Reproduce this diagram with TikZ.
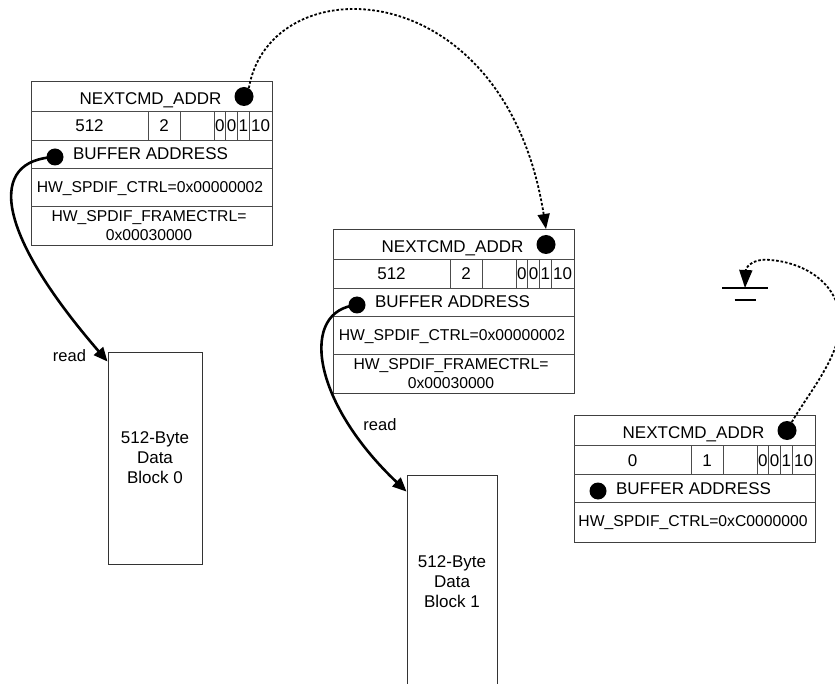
\documentclass[tikz,border=0pt]{standalone}
\usepackage{fontspec}
\setmainfont{Liberation Sans}
\usetikzlibrary{arrows.meta}
\tikzset{
  grid/.style={draw=black!70, line width=0.9pt},
  frame/.style={draw=black!75, line width=0.9pt, inner sep=0pt, outer sep=0pt},
  cell/.style={inner sep=0pt, anchor=base, font=\fontsize{17}{19}\selectfont},
  hwcell/.style={inner sep=0pt, align=center, font=\fontsize{15.7}{19}\selectfont},
  bigdot/.style={circle, fill=black, inner sep=0pt, minimum size=19pt},
  smalldot/.style={circle, fill=black, inner sep=0pt, minimum size=17pt},
  link/.style={line width=1.8pt, dash pattern=on 2.6pt off 1.9pt, -{Triangle[length=15pt,width=12pt]}},
  gndlink/.style={line width=1.8pt, dash pattern=on 2.6pt off 1.9pt, -{Triangle[length=18pt,width=13pt]}},
  readarrow/.style={line width=2.6pt, -{Triangle[length=14pt,width=12pt]}},
  datablock/.style={draw=black!80, line width=0.9pt, align=center, inner sep=0pt, font=\fontsize{17}{20}\selectfont},
  lbl/.style={inner sep=0pt, anchor=base, font=\fontsize{16.5}{19}\selectfont},
  gndline/.style={line width=2.8pt},
}
\newcommand{\cmdbox}[7]{%
  \begin{scope}[shift={(#2,#3)}]
    \node[frame, minimum width=241pt, minimum height=#7pt, anchor=north west] (#1) at (0,0) {};
    \draw[grid] (0,30) -- (241,30) (0,59) -- (241,59) (0,87) -- (241,87);
    \draw[grid] (117,30) -- (117,59) (149,30) -- (149,59) (183,30) -- (183,59)
                (194.5,30) -- (194.5,59) (206.5,30) -- (206.5,59) (218,30) -- (218,59);
    \node[cell] (#1-next) at (119.5,23.5) {NEXTCMD\_ADDR};
    \node[cell] (#1-cnt) at (58.5,51) {#4};
    \node[cell] (#1-ch) at (133,51) {#5};
    \node[cell] (#1-f0) at (188.75,51) {0};
    \node[cell] (#1-f1) at (200.5,51) {0};
    \node[cell] (#1-f2) at (212.25,51) {1};
    \node[cell] (#1-f3) at (229.5,51) {10};
    \node[cell] (#1-buf) at (119.5,79) {BUFFER ADDRESS};
    \node[hwcell, anchor=base] (#1-ctrl) at (119,111.5) {HW\_SPDIF\_CTRL=#6};
    \node[bigdot] (#1-nd) at (213,15.5) {};
    \node[smalldot] (#1-bd) at (24,76) {};
  \end{scope}}
\begin{document}
\begin{tikzpicture}[x=1pt, y=-1pt]
  \useasboundingbox (0,0) rectangle (835,684);
  \clip (0,0) rectangle (835,684);

  % command boxes
  \cmdbox{b1}{31}{81}{512}{2}{0x00000002}{164}
  \begin{scope}[shift={(31,81)}]
    \draw[grid] (0,125.5) -- (241,125.5);
    \node[hwcell] (b1-frame) at (118,144.5) {HW\_SPDIF\_FRAMECTRL=\\0x00030000};
  \end{scope}
  \cmdbox{b2}{333}{229}{512}{2}{0x00000002}{164}
  \begin{scope}[shift={(333,229)}]
    \draw[grid] (0,125.5) -- (241,125.5);
    \node[hwcell] (b2-frame) at (118,144.5) {HW\_SPDIF\_FRAMECTRL=\\0x00030000};
  \end{scope}
  \cmdbox{b3}{574}{415}{0}{1}{0xC0000000}{127}

  % data blocks
  \node[datablock, minimum width=94pt, minimum height=212pt] (blk0) at (155,458) {512-Byte\\Data\\Block 0};
  \node[datablock, minimum width=90pt, minimum height=230pt] (blk1) at (452,590) {};
  \node[inner sep=0pt, align=center, font=\fontsize{17}{20}\selectfont] (blk1t) at (452,582) {512-Byte\\Data\\Block 1};

  % ground symbol
  \coordinate (gnd) at (745,288);
  \draw[gndline] ([xshift=-23pt]gnd) -- ([xshift=23pt]gnd);
  \draw[gndline] ([xshift=-10.5pt,yshift=-12pt]gnd) -- ([xshift=10.5pt,yshift=-12pt]gnd);

  % links
  \draw[link] (b1-nd.60) .. controls (270,-35) and (505,-30) .. (b2-nd.north |- b2.north);
  \draw[gndlink] (b3-nd.60) .. controls (807,395) and (842,355) .. (840,320)
        .. controls (838,280) and (800,262) .. (770,260)
        .. controls (755,258) and (746,266) .. (gnd);

  % read arrows
  \draw[readarrow] (b1-bd.center) .. controls (-12,160) and (-6,230) .. ([yshift=-10pt]blk0.north west);
  \draw[readarrow] (b2-bd.center) .. controls (300,310) and (310,400) .. ([yshift=-17pt]blk1.north west);
  \node[lbl] (rd0) at (69.5,361.5) {read};
  \node[lbl] (rd1) at (380,430.5) {read};
\end{tikzpicture}
\end{document}
